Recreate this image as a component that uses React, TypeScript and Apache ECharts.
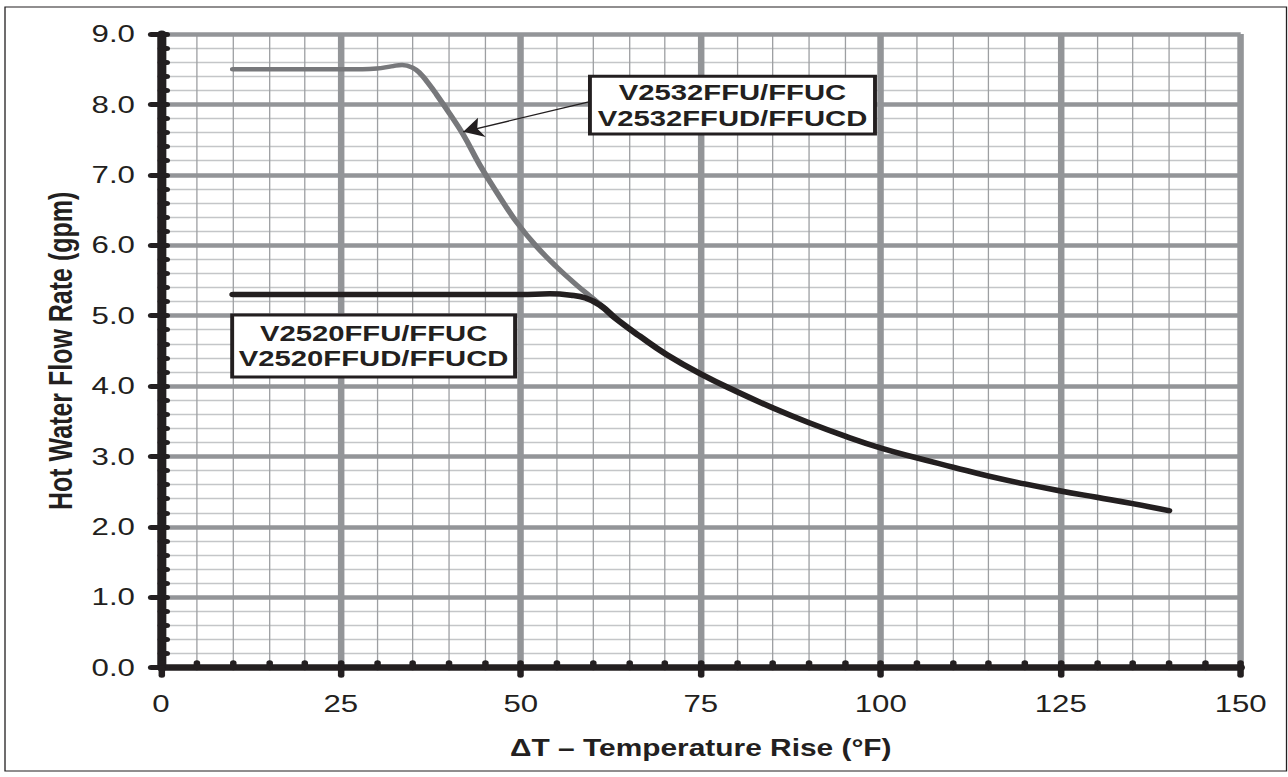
import React, { useEffect, useRef } from "react";
import * as echarts from "echarts";

// ---------- page / stretch ----------
const PAGE_W = 1288;
const PAGE_H = 777;
const CHART_W = 991; // the reference artwork is stretched horizontally ~1.3x
const STRETCH = PAGE_W / CHART_W;

// ---------- data ----------
const xRange = [0, 150];
const xStep = 25;
const yRange = [0, 9];
const yStep = 1;

// V2532FFU/FFUC (gray curve): [ΔT °F, gpm]
const grayCurve: [number, number][] = [
  [10, 8.5], [15, 8.5], [20, 8.5], [25, 8.5], [28, 8.5], [30, 8.51], [32, 8.54],
  [33.5, 8.56], [35, 8.52], [36, 8.44], [37, 8.32], [38.3, 8.14], [40.1, 7.87],
  [42, 7.57], [44.3, 7.14], [46.6, 6.76], [49.4, 6.33], [52.2, 5.98], [55, 5.69],
  [57.7, 5.44], [59.6, 5.28], [61.5, 5.12],
];

// V2520FFU/FFUC (black curve)
const blackCurve: [number, number][] = [
  [10, 5.3], [20, 5.3], [30, 5.3], [40, 5.3], [50, 5.3], [54, 5.31], [57, 5.29],
  [59, 5.25], [61, 5.15], [63.3, 4.95], [66.5, 4.71], [70.2, 4.45], [75, 4.17],
  [80, 3.92], [85, 3.69], [90, 3.48], [95, 3.29], [100, 3.12], [105, 2.98],
  [110, 2.85], [115, 2.72], [120, 2.61], [125, 2.51], [130, 2.42], [135, 2.33],
  [140, 2.23],
];

const topLabelLines = ["V2532FFU/FFUC", "V2532FFUD/FFUCD"];
const bottomLabelLines = ["V2520FFU/FFUC", "V2520FFUD/FFUCD"];
// label boxes in data coordinates: [left, top], [right, bottom]
const topBox: [number, number][] = [[59.6, 8.4], [99.2, 7.58]];
const bottomBox: [number, number][] = [[9.9, 5.01], [49.2, 4.13]];
// leader arrow from the top label to the gray curve
const arrowFrom: [number, number] = [59.6, 8.04];
const arrowTo: [number, number] = [42.0, 7.61];

const xTitle = "ΔT – Temperature Rise (°F)";
const yTitle = "Hot Water Flow Rate (gpm)";

// ---------- styles ----------
const FONT = '"Liberation Sans", Arial, Helvetica, sans-serif';
const INK = "#231f20";
const MAJOR_GRID = "#939598";

const off = { show: false };

function xAxes() {
  const base = { type: "value", min: xRange[0], max: xRange[1], interval: xStep, position: "bottom", gridIndex: 0 };
  return [
    {
      ...base,
      z: 4,
      axisLine: { show: true, onZero: false, lineStyle: { color: INK, width: 6.5, cap: "round" } },
      axisTick: { show: true, inside: true, length: 5, lineStyle: { color: INK, width: 5, cap: "round" } },
      minorTick: { show: true, splitNumber: 5, length: 5, lineStyle: { color: INK, width: 5, cap: "round" } },
      axisLabel: { show: true, margin: 24, fontSize: 24, fontFamily: FONT, color: INK },
      splitLine: off,
      minorSplitLine: off,
      name: xTitle,
      nameLocation: "middle",
      nameGap: 69,
      nameTextStyle: { fontSize: 23, fontWeight: "bold", fontFamily: FONT, color: INK },
    },
    {
      ...base,
      z: 4,
      axisLine: off,
      axisTick: { show: true, inside: false, length: 7.5, lineStyle: { color: INK, width: 5, cap: "round" } },
      minorTick: off,
      axisLabel: off,
      splitLine: off,
      minorSplitLine: off,
    },
    {
      ...base,
      z: 1,
      axisLine: off,
      axisTick: off,
      minorTick: off,
      axisLabel: off,
      splitLine: { show: true, lineStyle: { color: MAJOR_GRID, width: 5 } },
      minorSplitLine: off,
    },
    {
      ...base,
      z: 0,
      axisLine: off,
      axisTick: off,
      minorTick: { show: false, splitNumber: 5 },
      axisLabel: off,
      splitLine: off,
      minorSplitLine: { show: true, lineStyle: { color: "#9d9fa2", width: 1 } },
    },
  ];
}

function yAxes() {
  const base = { type: "value", min: yRange[0], max: yRange[1], interval: yStep, position: "left", gridIndex: 0 };
  return [
    {
      ...base,
      z: 4,
      axisLine: { show: true, onZero: false, lineStyle: { color: INK, width: 7, cap: "round" } },
      axisTick: { show: true, inside: true, length: 4.5, lineStyle: { color: INK, width: 5, cap: "round" } },
      minorTick: { show: true, splitNumber: 5, length: 4.5, lineStyle: { color: INK, width: 5, cap: "round" } },
      axisLabel: {
        show: true,
        margin: 20,
        fontSize: 24,
        fontFamily: FONT,
        color: INK,
        formatter: (v: number) => v.toFixed(1),
      },
      splitLine: off,
      minorSplitLine: off,
      name: yTitle,
      nameLocation: "middle",
      nameGap: 64,
      nameTextStyle: { fontSize: 25, fontWeight: "bold", fontFamily: FONT, color: INK },
    },
    {
      ...base,
      z: 4,
      axisLine: off,
      axisTick: { show: true, inside: false, length: 7.5, lineStyle: { color: INK, width: 5, cap: "round" } },
      minorTick: off,
      axisLabel: off,
      splitLine: off,
      minorSplitLine: off,
    },
    {
      ...base,
      z: 1,
      axisLine: off,
      axisTick: off,
      minorTick: off,
      axisLabel: off,
      splitLine: { show: true, lineStyle: { color: MAJOR_GRID, width: 4.5 } },
      minorSplitLine: off,
    },
    {
      ...base,
      z: 0,
      axisLine: off,
      axisTick: off,
      minorTick: { show: false, splitNumber: 5 },
      axisLabel: off,
      splitLine: off,
      minorSplitLine: { show: true, lineStyle: { color: "#c4c6c8", width: 1.3 } },
    },
  ];
}

function buildOption() {
  return {
    animation: false,
    backgroundColor: "#ffffff",
    grid: {
      left: 123.8,
      right: 36.4,
      top: 34,
      bottom: 109.3,
      containLabel: false,
      outerBoundsMode: "none",
    },
    xAxis: xAxes(),
    yAxis: yAxes(),
    series: [
      {
        name: "V2532",
        type: "line",
        xAxisIndex: 0,
        yAxisIndex: 0,
        data: grayCurve,
        symbol: "none",
        showSymbol: false,
        smooth: 0.45,
        z: 2,
        silent: true,
        lineStyle: { color: "#77787b", width: 4.5, cap: "round", join: "round" },
        markLine: {
          silent: true,
          animation: false,
          symbol: ["none", "arrow"],
          symbolSize: 15,
          label: { show: false },
          lineStyle: { color: INK, width: 1.3, type: "solid" },
          emphasis: { disabled: true },
          data: [[{ coord: arrowFrom }, { coord: arrowTo }]],
        },
      },
      {
        name: "V2520",
        type: "line",
        xAxisIndex: 0,
        yAxisIndex: 0,
        data: blackCurve,
        symbol: "none",
        showSymbol: false,
        smooth: 0.45,
        z: 2,
        silent: true,
        lineStyle: { color: INK, width: 5.5, cap: "round", join: "round" },
      },
    ],
  };
}

function labelBox(chart: any, corners: [number, number][], lines: string[]) {
  const a = chart.convertToPixel({ xAxisIndex: 0, yAxisIndex: 0 }, corners[0]);
  const b = chart.convertToPixel({ xAxisIndex: 0, yAxisIndex: 0 }, corners[1]);
  const x = Math.min(a[0], b[0]);
  const y = Math.min(a[1], b[1]);
  const w = Math.abs(b[0] - a[0]);
  const h = Math.abs(b[1] - a[1]);
  const cx = x + w / 2;
  const cy = y + h / 2;
  const gap = 12.8;
  return {
    type: "group",
    z: 20,
    children: [
      {
        type: "rect",
        z: 20,
        shape: { x, y, width: w, height: h },
        style: { fill: "#ffffff", stroke: INK, lineWidth: 3 },
      },
      ...lines.map((t, i) => ({
        type: "text",
        z: 21,
        style: {
          text: t,
          x: cx,
          y: cy + (i === 0 ? -gap : gap),
          fill: INK,
          font: `bold 22.5px ${FONT}`,
          align: "center",
          verticalAlign: "middle",
          textAlign: "center",
          textVerticalAlign: "middle",
        },
      })),
    ],
  };
}

export default function App() {
  const ref = useRef<HTMLDivElement>(null);
  useEffect(() => {
    if (!ref.current) return;
    const chart = echarts.init(ref.current, null, { renderer: "svg", width: CHART_W, height: PAGE_H });
    chart.setOption(buildOption() as any);
    chart.setOption({
      graphic: [
        {
          type: "rect",
          z: 30,
          silent: true,
          shape: { x: 3.85, y: 7, width: 986, height: 764 },
          style: { fill: "none", stroke: INK, lineWidth: 1 },
        },
        labelBox(chart, topBox, topLabelLines),
        labelBox(chart, bottomBox, bottomLabelLines),
      ],
    } as any);
    return () => chart.dispose();
  }, []);
  return (
    <div
      style={{
        position: "fixed",
        left: 0,
        top: 0,
        width: PAGE_W,
        height: PAGE_H,
        overflow: "hidden",
        background: "#ffffff",
      }}
    >
      <div
        ref={ref}
        style={{
          width: CHART_W,
          height: PAGE_H,
          transform: `scaleX(${STRETCH})`,
          transformOrigin: "0 0",
        }}
      />
    </div>
  );
}
